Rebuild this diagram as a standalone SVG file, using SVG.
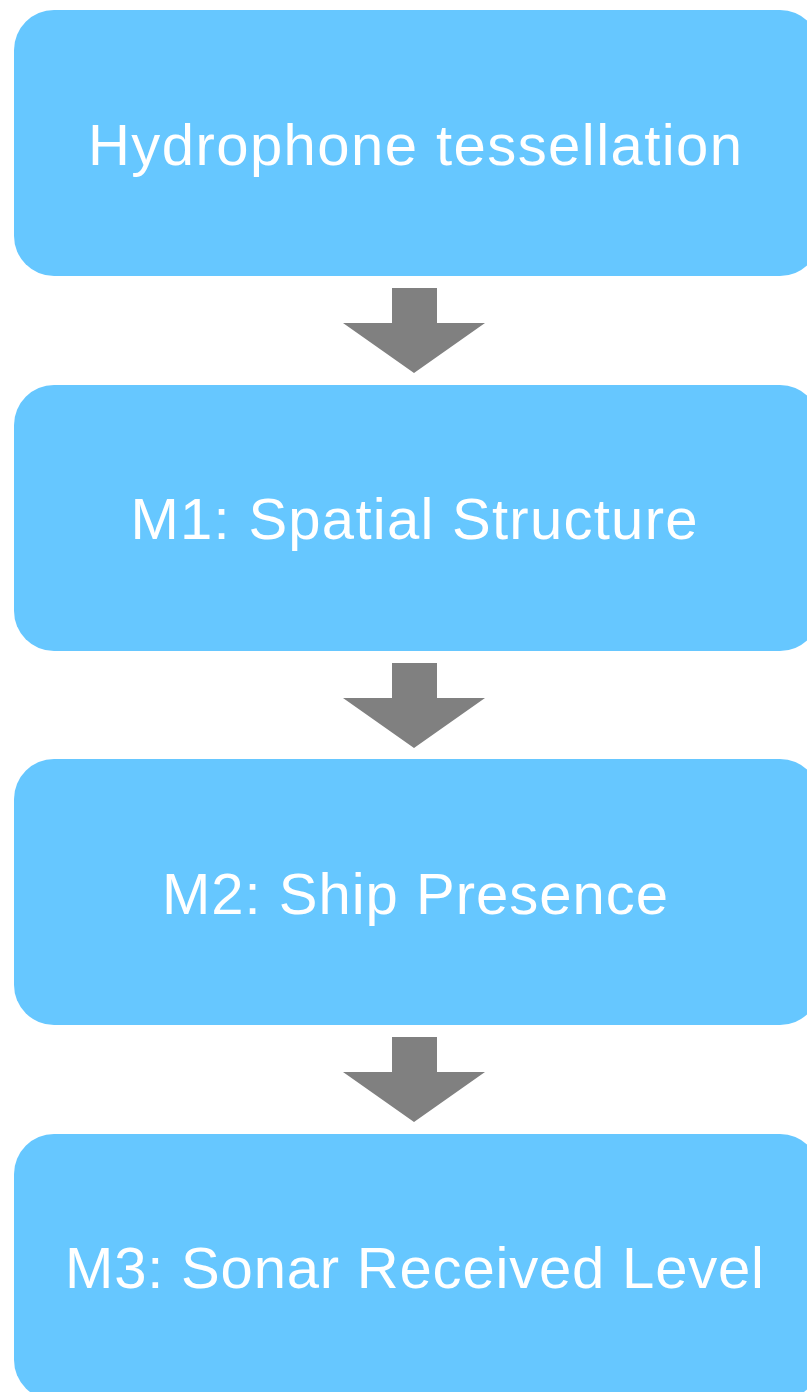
<svg xmlns="http://www.w3.org/2000/svg" width="807" height="1392" viewBox="0 0 807 1392">
<style>
.box{fill:#66C7FF;}
.lbl{fill:#FFFFFF;font-family:"Liberation Sans",Arial,sans-serif;font-size:58px;text-anchor:middle;}
.arr{fill:#808080;}
</style>
<rect width="807" height="1392" fill="#FFFFFF"/>
<g id="node1"><rect class="box" x="14" y="10" width="806" height="266" rx="40" ry="40"/><text class="lbl" x="415" y="165" textLength="654" lengthAdjust="spacing">Hydrophone tessellation</text></g>
<g id="node2"><rect class="box" x="14" y="385" width="806" height="266" rx="40" ry="40"/><text class="lbl" x="414" y="539" textLength="567" lengthAdjust="spacing">M1: Spatial Structure</text></g>
<g id="node3"><rect class="box" x="14" y="759" width="806" height="266" rx="40" ry="40"/><text class="lbl" x="415" y="914" textLength="506" lengthAdjust="spacing">M2: Ship Presence</text></g>
<g id="node4"><rect class="box" x="14" y="1134" width="806" height="266" rx="40" ry="40"/><text class="lbl" x="414.5" y="1288" textLength="699" lengthAdjust="spacing">M3: Sonar Received Level</text></g>
<g id="connectors">
<polygon class="arr" points="392,288 437,288 437,323 485,323 414,373 343,323 392,323"/>
<polygon class="arr" points="392,663 437,663 437,698 485,698 414,748 343,698 392,698"/>
<polygon class="arr" points="392,1037 437,1037 437,1072 485,1072 414,1122 343,1072 392,1072"/>
</g>
</svg>
